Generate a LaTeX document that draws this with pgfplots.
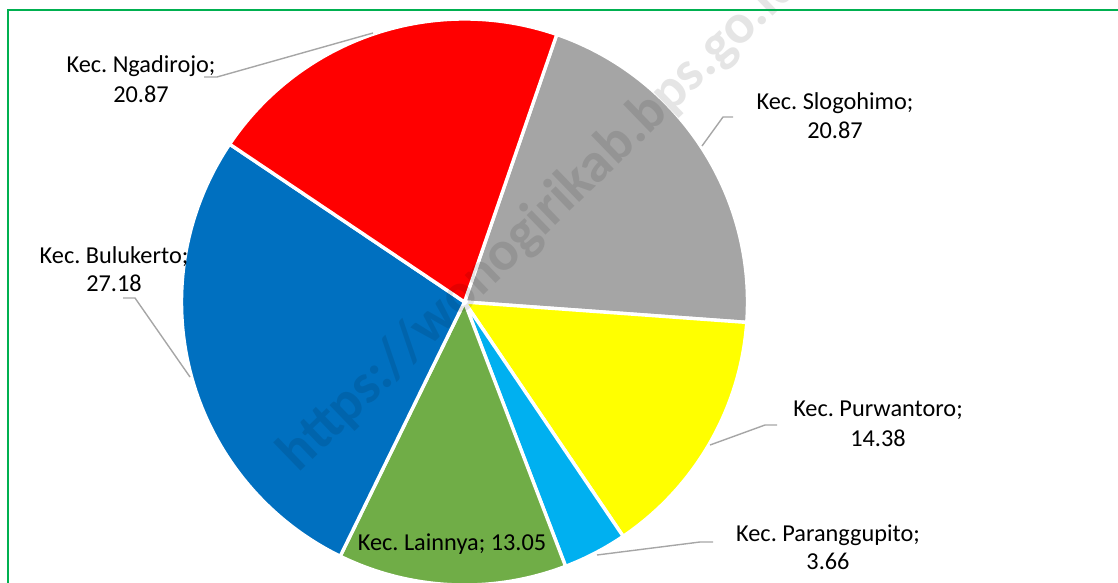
\documentclass[border=0pt]{standalone}
\usepackage{pgfplots}
\pgfplotsset{compat=1.18}
\usepackage{pgfplotstable}
\usepackage{fontspec}
\setmainfont{Carlito}
\frenchspacing
\definecolor{cRed}{RGB}{255,0,0}
\definecolor{cGray}{RGB}{165,165,165}
\definecolor{cYellow}{RGB}{255,255,0}
\definecolor{cCyan}{RGB}{0,176,240}
\definecolor{cGreen}{RGB}{112,173,71}
\definecolor{cBlue}{RGB}{0,112,192}
\definecolor{cBorder}{RGB}{0,176,80}
\definecolor{cLeader}{RGB}{166,166,166}
\pgfplotstableread{
name val col
Slogohimo 20.87 cGray
Purwantoro 14.38 cYellow
Paranggupito 3.66 cCyan
Lainnya 13.05 cGreen
Bulukerto 27.18 cBlue
Ngadirojo 20.87 cRed
}\piedata
\begin{document}
\begin{tikzpicture}
\useasboundingbox (0,0) rectangle (1118pt,582pt);
\begin{axis}[at={(0,0)}, anchor=south west, scale only axis,
  width=1118pt, height=582pt, xmin=0, xmax=1118, ymin=0, ymax=582,
  hide axis, clip=true]
\pgfplotstablegetrowsof{\piedata}
\pgfmathtruncatemacro\nrows{\pgfplotsretval-1}
\gdef\astart{71}
\pgfplotsforeachungrouped \i in {0,...,\nrows}{%
  \pgfplotstablegetelem{\i}{val}\of\piedata \let\v\pgfplotsretval
  \pgfplotstablegetelem{\i}{col}\of\piedata \let\c\pgfplotsretval
  \pgfmathsetmacro\aend{\astart-3.6*\v}%
  \edef\temp{\noexpand\fill[\c, draw=white, line width=3.4pt, line join=round]
    (axis cs:464.5,280) -- ++(\astart:283pt) arc[start angle=\astart, end angle=\aend, radius=283pt] -- cycle;}%
  \temp
  \global\let\astart\aend
}
% watermark
\node[rotate=44, text=black, text opacity=0.1, font=\bfseries\fontsize{56}{60}\selectfont]
  at (axis cs:540,362) {https://wonogirikab.bps.go.id};
% border
\draw[cBorder, line width=2pt] (axis cs:8,-20) -- (axis cs:8,572) -- (axis cs:1140,572);
% leader lines
\begin{scope}[cLeader, line width=1.4pt]
\draw (axis cs:204,505) -- (axis cs:217,505) -- (axis cs:373,549);
\draw (axis cs:733,465) -- (axis cs:723,465) -- (axis cs:702,436);
\draw (axis cs:123,284) -- (axis cs:135,284) -- (axis cs:190,205);
\draw (axis cs:777,157) -- (axis cs:765,157) -- (axis cs:710,137);
\draw (axis cs:713,40) -- (axis cs:700,40) -- (axis cs:597,27);
\end{scope}
% labels
\begin{scope}[font=\fontsize{24.3}{29}\selectfont, text=black]
\node[anchor=base] at (axis cs:141,509.3) {Kec. Ngadirojo;};
\node[anchor=base] at (axis cs:141,479.3) {20.87};
\node[anchor=base] at (axis cs:835,472) {Kec. Slogohimo;};
\node[anchor=base] at (axis cs:835,443) {20.87};
\node[anchor=base] at (axis cs:114,318.7) {Kec. Bulukerto;};
\node[anchor=base] at (axis cs:114,290.3) {27.18};
\node[anchor=base] at (axis cs:878,165.3) {Kec. Purwantoro;};
\node[anchor=base] at (axis cs:878,136) {14.38};
\node[anchor=base] at (axis cs:828,41) {Kec. Paranggupito;};
\node[anchor=base] at (axis cs:828,12.7) {3.66};
\node[anchor=base] at (axis cs:452,31.3) {Kec. Lainnya; 13.05};
\end{scope}
\end{axis}
\end{tikzpicture}
\end{document}
